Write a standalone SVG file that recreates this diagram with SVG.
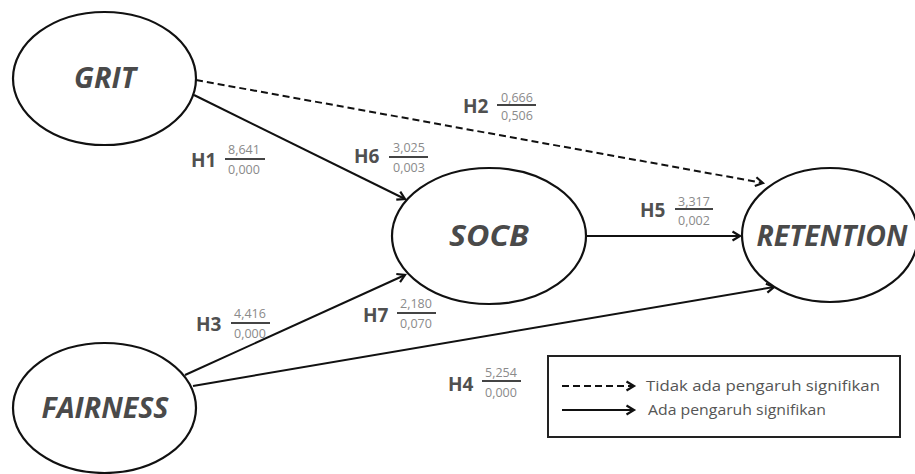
<svg xmlns="http://www.w3.org/2000/svg" width="915" height="474" viewBox="0 0 915 474">
<style>
.node{fill:#fff;stroke:#111;stroke-width:2.2}
.nl{font-family:"Open Sans","Liberation Sans",sans-serif;font-weight:bold;font-style:italic;font-size:28px;fill:#4a4a4a;text-anchor:middle}
.h{font-family:"Open Sans","Liberation Sans",sans-serif;font-weight:bold;font-size:19px;fill:#505050}
.n{font-family:"Open Sans","Liberation Sans",sans-serif;font-size:12.5px;fill:#8a8a8a;text-anchor:middle}
.fr{stroke:#444;stroke-width:2}
.c{fill:none;stroke:#111;stroke-width:2}
.d{stroke-dasharray:7,4}
.lg{font-family:"Open Sans","Liberation Sans",sans-serif;font-size:14.5px;fill:#555}
</style>
<defs>
<marker id="ah" markerWidth="20" markerHeight="20" refX="10" refY="10" markerUnits="userSpaceOnUse" orient="auto" overflow="visible">
<path d="M2.5,5.5 L10,10 L2.5,14.5" fill="none" stroke="#111" stroke-width="2.2" stroke-linejoin="miter"/>
</marker>
</defs>
<g id="connectors">
<line class="c" x1="194" y1="95" x2="405" y2="199" marker-end="url(#ah)"/>
<line class="c d" x1="196" y1="80" x2="763" y2="183" marker-end="url(#ah)"/>
<line class="c" x1="585" y1="236" x2="740" y2="236" marker-end="url(#ah)"/>
<line class="c" x1="185" y1="375" x2="405" y2="275" marker-end="url(#ah)"/>
<line class="c" x1="193" y1="386" x2="774" y2="287" marker-end="url(#ah)"/>
</g>
<g id="grit">
<ellipse class="node" cx="104.5" cy="78.5" rx="91.5" ry="66.5"/>
<text class="nl" x="105" y="88" textLength="62" lengthAdjust="spacingAndGlyphs">GRIT</text>
</g>
<g id="fairness">
<ellipse class="node" cx="104.5" cy="408" rx="91.5" ry="65"/>
<text class="nl" x="105" y="418" textLength="127" lengthAdjust="spacingAndGlyphs">FAIRNESS</text>
</g>
<g id="socb">
<ellipse class="node" cx="489" cy="236" rx="97" ry="68"/>
<text class="nl" x="489" y="246" textLength="80" lengthAdjust="spacingAndGlyphs">SOCB</text>
</g>
<g id="retention">
<ellipse class="node" cx="830" cy="235" rx="88" ry="67"/>
<text class="nl" x="832" y="246" textLength="151" lengthAdjust="spacingAndGlyphs">RETENTION</text>
</g>
<g id="labels">
<text class="h" x="191" y="167">H1</text>
<text class="n" x="244" y="154">8,641</text><line class="fr" x1="225" y1="159" x2="265" y2="159"/><text class="n" x="244" y="174">0,000</text>
<text class="h" x="463" y="113">H2</text>
<text class="n" x="517" y="102">0,666</text><line class="fr" x1="497" y1="105" x2="536" y2="105"/><text class="n" x="517" y="120">0,506</text>
<text class="h" x="354" y="163">H6</text>
<text class="n" x="409" y="152">3,025</text><line class="fr" x1="389" y1="157" x2="428" y2="157"/><text class="n" x="409" y="172">0,003</text>
<text class="h" x="640" y="217">H5</text>
<text class="n" x="694" y="206">3,317</text><line class="fr" x1="675" y1="209" x2="713" y2="209"/><text class="n" x="694" y="225">0,002</text>
<text class="h" x="196" y="331">H3</text>
<text class="n" x="250" y="318">4,416</text><line class="fr" x1="231" y1="323" x2="270" y2="323"/><text class="n" x="250" y="338">0,000</text>
<text class="h" x="363" y="322">H7</text>
<text class="n" x="416" y="308">2,180</text><line class="fr" x1="397" y1="313" x2="436" y2="313"/><text class="n" x="416" y="328">0,070</text>
<text class="h" x="448" y="391">H4</text>
<text class="n" x="501" y="377">5,254</text><line class="fr" x1="482" y1="381" x2="521" y2="381"/><text class="n" x="501" y="397">0,000</text>
</g>
<g id="legend">
<rect x="548" y="356" width="352" height="81" fill="#fff" stroke="#222" stroke-width="2"/>
<line class="c d" x1="562" y1="386" x2="634" y2="386" stroke-dasharray="5,3" marker-end="url(#ah)"/>
<line class="c" x1="562" y1="410" x2="634" y2="410" marker-end="url(#ah)"/>
<text class="lg" x="646" y="391" textLength="234" lengthAdjust="spacingAndGlyphs">Tidak  ada pengaruh signifikan</text>
<text class="lg" x="648" y="415" textLength="178" lengthAdjust="spacingAndGlyphs">Ada pengaruh signifikan</text>
</g>
</svg>
